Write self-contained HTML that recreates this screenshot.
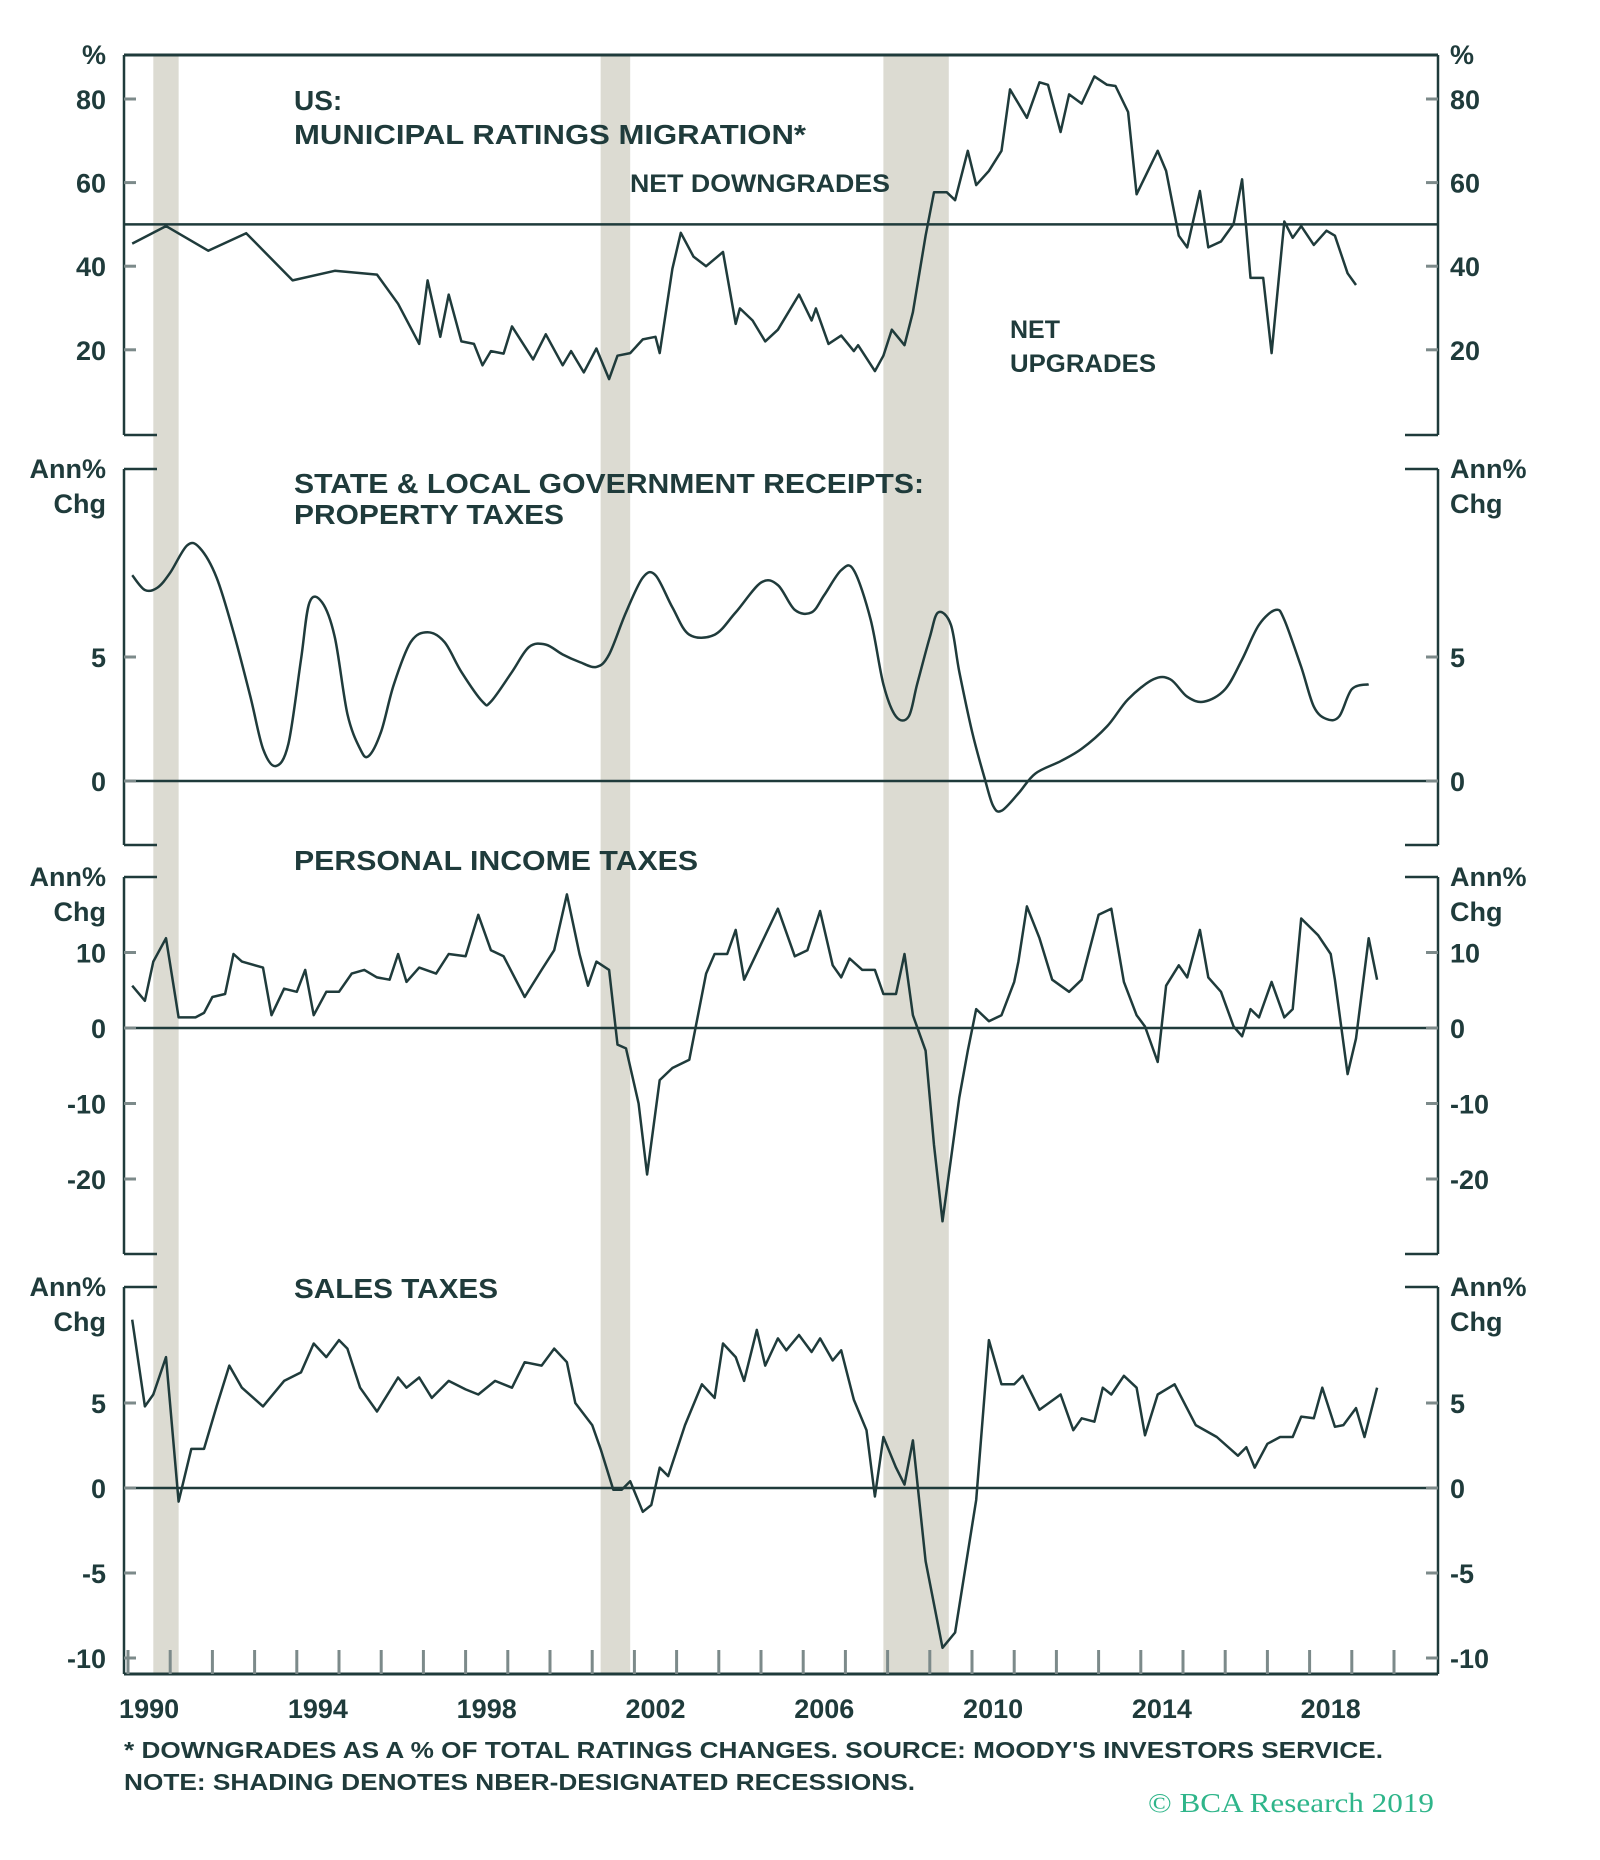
<!DOCTYPE html>
<html><head><meta charset="utf-8"><style>
html,body{margin:0;padding:0;background:#fff;}
svg{display:block;font-family:"Liberation Sans",sans-serif;}
</style></head><body>
<svg id="chart" width="1600" height="1860" viewBox="0 0 1600 1860" xmlns="http://www.w3.org/2000/svg"></svg>
<script>
// ---- data ----
const recessions = [[1990.6,1991.2],[2001.2,2001.9],[2007.9,2009.45]];
const yearLabels = [1990,1994,1998,2002,2006,2010,2014,2018];
const ratingsYears = [1990.1,1990.9,1991.9,1992.8,1993.9,1994.9,1995.9,1996.4,1996.9,1997.1,1997.4,1997.6,1997.9,1998.2,1998.4,1998.6,1998.9,1999.1,1999.6,1999.9,2000.3,2000.5,2000.8,2001.1,2001.4,2001.6,2001.9,2002.2,2002.5,2002.6,2002.9,2003.1,2003.4,2003.7,2004.1,2004.4,2004.5,2004.8,2005.1,2005.4,2005.9,2006.2,2006.3,2006.6,2006.9,2007.2,2007.3,2007.7,2007.9,2008.1,2008.4,2008.6,2008.9,2009.1,2009.4,2009.6,2009.9,2010.1,2010.4,2010.7,2010.9,2011.3,2011.6,2011.8,2012.1,2012.3,2012.6,2012.9,2013.2,2013.4,2013.7,2013.9,2014.4,2014.6,2014.9,2015.1,2015.4,2015.6,2015.9,2016.2,2016.4,2016.6,2016.9,2017.1,2017.4,2017.6,2017.8,2018.1,2018.4,2018.6,2018.9,2019.1];
const ratingsValues = [45.4,49.6,43.7,47.9,36.6,38.9,38,31,21.4,36.6,23.1,33.2,22,21.4,16.3,19.7,19.1,25.6,17.7,23.7,16.3,19.7,14.6,20.3,13,18.6,19.2,22.5,23.1,19.2,39.4,48,42.3,40,43.4,26.2,29.9,27,22,24.8,33.2,27,29.9,21.4,23.4,19.7,21.1,14.9,18.6,24.8,21.1,29,47.3,57.7,57.7,55.8,67.6,59.4,62.8,67.6,82.3,75.5,84,83.4,72.1,81.1,78.9,85.4,83.4,83.1,76.9,57.2,67.6,62.8,47.3,44.5,58,44.5,45.9,50.1,60.8,37.2,37.2,19.2,50.7,46.8,49.6,45.1,48.5,47.3,38.3,35.5];
const propYears = [1990.1,1990.4,1990.7,1991.0,1991.4,1991.7,1992.1,1992.5,1992.9,1993.2,1993.5,1993.8,1994.1,1994.3,1994.6,1994.9,1995.2,1995.5,1995.7,1996.0,1996.3,1996.7,1997.1,1997.5,1997.9,1998.4,1998.6,1999.1,1999.5,1999.9,2000.3,2000.7,2001.1,2001.4,2001.8,2002.2,2002.5,2002.9,2003.3,2003.9,2004.4,2005.0,2005.4,2005.8,2006.2,2006.5,2006.9,2007.2,2007.6,2007.9,2008.2,2008.5,2008.7,2009.0,2009.2,2009.5,2009.7,2010.0,2010.3,2010.5,2010.7,2011.1,2011.5,2012.1,2012.6,2013.2,2013.7,2014.3,2014.7,2015.1,2015.5,2016.0,2016.4,2016.8,2017.2,2017.4,2017.8,2018.1,2018.4,2018.7,2019.0,2019.4];
const propValues = [8.3,7.7,7.8,8.4,9.5,9.4,8.2,6.0,3.4,1.3,0.6,1.5,4.9,7.2,7.2,5.8,2.7,1.3,1.0,2.0,3.9,5.6,6.0,5.6,4.4,3.2,3.2,4.4,5.4,5.5,5.1,4.8,4.6,5.1,6.8,8.2,8.3,7.0,5.9,5.9,6.8,8.0,7.9,6.9,6.8,7.5,8.5,8.5,6.5,3.9,2.6,2.6,3.9,5.8,6.8,6.3,4.4,2.0,0.1,-1.0,-1.2,-0.5,0.3,0.8,1.3,2.2,3.3,4.1,4.1,3.4,3.2,3.7,4.9,6.3,6.9,6.5,4.6,3.0,2.5,2.6,3.7,3.9];
const incYears = [1990.1,1990.4,1990.6,1990.9,1991.2,1991.6,1991.8,1992.0,1992.3,1992.5,1992.7,1993.2,1993.4,1993.7,1994.0,1994.2,1994.4,1994.7,1995.0,1995.3,1995.6,1995.9,1996.2,1996.4,1996.6,1996.9,1997.3,1997.6,1998.0,1998.3,1998.6,1998.9,1999.4,1999.8,2000.1,2000.4,2000.7,2000.9,2001.1,2001.4,2001.6,2001.8,2002.1,2002.3,2002.6,2002.9,2003.3,2003.7,2003.9,2004.2,2004.4,2004.6,2005.0,2005.4,2005.8,2006.1,2006.4,2006.7,2006.9,2007.1,2007.4,2007.7,2007.9,2008.2,2008.4,2008.6,2008.9,2009.1,2009.3,2009.7,2009.9,2010.1,2010.4,2010.7,2011.0,2011.1,2011.3,2011.6,2011.9,2012.3,2012.6,2013.0,2013.3,2013.6,2013.9,2014.1,2014.4,2014.6,2014.9,2015.1,2015.4,2015.6,2015.9,2016.2,2016.4,2016.6,2016.8,2017.1,2017.4,2017.6,2017.8,2018.2,2018.5,2018.6,2018.9,2019.1,2019.4,2019.6];
const incValues = [5.6,3.6,8.8,11.9,1.4,1.4,2.0,4.1,4.5,9.8,8.8,8.0,1.7,5.2,4.8,7.7,1.7,4.8,4.8,7.2,7.7,6.7,6.4,9.8,6.1,8.0,7.2,9.8,9.5,15.0,10.3,9.5,4.1,7.7,10.3,17.7,9.8,5.6,8.8,7.7,-2.2,-2.7,-10,-19.4,-6.9,-5.3,-4.2,7.2,9.8,9.8,13,6.4,11.1,15.8,9.5,10.3,15.5,8.3,6.7,9.2,7.7,7.7,4.5,4.5,9.8,1.7,-3,-15.5,-25.6,-9.2,-3,2.5,0.9,1.7,6.1,8.8,16.1,11.9,6.4,4.8,6.4,15,15.8,6.1,1.7,0.2,-4.5,5.6,8.3,6.7,13,6.7,4.8,0.2,-1.1,2.5,1.4,6.1,1.4,2.5,14.5,12.3,9.8,6.4,-6.1,-1.4,11.9,6.4];
const salesYears = [1990.1,1990.4,1990.6,1990.9,1991.2,1991.5,1991.8,1992.1,1992.4,1992.7,1993.2,1993.7,1994.1,1994.4,1994.7,1995.0,1995.2,1995.5,1995.9,1996.4,1996.6,1996.9,1997.2,1997.6,1998.0,1998.3,1998.7,1999.1,1999.4,1999.8,2000.1,2000.4,2000.6,2001.0,2001.2,2001.5,2001.7,2001.9,2002.2,2002.4,2002.6,2002.8,2003.2,2003.6,2003.9,2004.1,2004.4,2004.6,2004.9,2005.1,2005.4,2005.6,2005.9,2006.2,2006.4,2006.7,2006.9,2007.2,2007.5,2007.7,2007.9,2008.2,2008.4,2008.6,2008.9,2009.3,2009.6,2010.1,2010.4,2010.7,2011.0,2011.2,2011.6,2012.1,2012.4,2012.6,2012.9,2013.1,2013.3,2013.6,2013.9,2014.1,2014.4,2014.8,2015.3,2015.8,2016.3,2016.5,2016.7,2017.0,2017.3,2017.6,2017.8,2018.1,2018.3,2018.6,2018.8,2019.1,2019.3,2019.6];
const salesValues = [9.9,4.8,5.5,7.7,-0.8,2.3,2.3,4.8,7.2,5.9,4.8,6.3,6.8,8.5,7.7,8.7,8.2,5.9,4.5,6.5,5.9,6.5,5.3,6.3,5.8,5.5,6.3,5.9,7.4,7.2,8.2,7.4,5.0,3.7,2.3,-0.1,-0.1,0.4,-1.4,-1.0,1.2,0.7,3.7,6.1,5.3,8.5,7.7,6.3,9.3,7.2,8.8,8.1,9.0,8.0,8.8,7.5,8.1,5.2,3.4,-0.5,3.0,1.2,0.2,2.8,-4.3,-9.4,-8.5,-0.7,8.7,6.1,6.1,6.6,4.6,5.5,3.4,4.1,3.9,5.9,5.5,6.6,5.9,3.1,5.5,6.1,3.7,3.0,1.9,2.4,1.2,2.6,3.0,3.0,4.2,4.1,5.9,3.6,3.7,4.7,3.0,5.9];

const ratingsTicks = [80,60,40,20];
const propTicks = [5,0];
const incTicks = [10,0,-10,-20];
const salesTicks = [5,0,-5,-10];

// ---- layout ----
const svg = document.getElementById('chart');
const NS = 'http://www.w3.org/2000/svg';
const C = '#1f3b3b';
const L = 124, R = 1438;
function xs(t){ return 972 + (t - 2010) * 42.2; }
const panels = [
  {name:'ratings', top:55, bot:435, y:v=>99+(80-v)*4.18, ticks:ratingsTicks, yrs:ratingsYears, vals:ratingsValues, ref:50, smooth:false},
  {name:'property-taxes', top:469, bot:845, y:v=>781-v*24.8, ticks:propTicks, yrs:propYears, vals:propValues, ref:0, smooth:true},
  {name:'income-taxes', top:877, bot:1254, y:v=>1028-v*7.55, ticks:incTicks, yrs:incYears, vals:incValues, ref:0, smooth:false},
  {name:'sales-taxes', top:1287, bot:1674, y:v=>1488-v*17, ticks:salesTicks, yrs:salesYears, vals:salesValues, ref:0, smooth:false}
];
function mk(tag, attrs, parent){
  const e = document.createElementNS(NS, tag);
  for (const k in attrs) e.setAttribute(k, attrs[k]);
  (parent||svg).appendChild(e);
  return e;
}
function smoothPath(pts){
  let d = 'M'+pts[0][0].toFixed(1)+' '+pts[0][1].toFixed(1);
  for(let i=0;i<pts.length-1;i++){
    const p0=pts[Math.max(0,i-1)], p1=pts[i], p2=pts[i+1], p3=pts[Math.min(pts.length-1,i+2)];
    const c1=[p1[0]+(p2[0]-p0[0])/6, p1[1]+(p2[1]-p0[1])/6];
    const c2=[p2[0]-(p3[0]-p1[0])/6, p2[1]-(p3[1]-p1[1])/6];
    d += ' C'+c1[0].toFixed(1)+' '+c1[1].toFixed(1)+' '+c2[0].toFixed(1)+' '+c2[1].toFixed(1)+' '+p2[0].toFixed(1)+' '+p2[1].toFixed(1);
  }
  return d;
}
recessions.forEach(r=>{
  const e = mk('rect',{x:xs(r[0]),y:55,width:xs(r[1])-xs(r[0]),height:1674-55,fill:'#dcdbd2'});
  
  
});
panels.forEach((p,i)=>{
  const g = mk('g',{});
  
  
  mk('line',{x1:L,y1:p.top,x2:L,y2:p.bot,stroke:C,'stroke-width':2.5},g);
  mk('line',{x1:R,y1:p.top,x2:R,y2:p.bot,stroke:C,'stroke-width':2.5},g);
  if(i===0){ mk('line',{x1:L,y1:p.top,x2:R,y2:p.top,stroke:C,'stroke-width':3},g); }
  else { mk('line',{x1:L,y1:p.top,x2:L+33,y2:p.top,stroke:C,'stroke-width':2.5},g); mk('line',{x1:R-33,y1:p.top,x2:R,y2:p.top,stroke:C,'stroke-width':2.5},g); }
  if(i===3){ mk('line',{x1:L,y1:p.bot,x2:R,y2:p.bot,stroke:C,'stroke-width':3},g); }
  else { mk('line',{x1:L,y1:p.bot,x2:L+33,y2:p.bot,stroke:C,'stroke-width':2.5},g); mk('line',{x1:R-33,y1:p.bot,x2:R,y2:p.bot,stroke:C,'stroke-width':2.5},g); }
  const ref = mk('line',{x1:L,y1:p.y(p.ref),x2:R,y2:p.y(p.ref),stroke:C,'stroke-width':2.5},g);
  
  
  p.ticks.forEach(v=>{
    const y = p.y(v);
    mk('line',{x1:L,y1:y,x2:L+12,y2:y,stroke:'#7c8a8a','stroke-width':3},g);
    mk('line',{x1:R-12,y1:y,x2:R,y2:y,stroke:'#7c8a8a','stroke-width':3},g);
    const tl = mk('text',{x:106,y:y+10,'text-anchor':'end','font-size':27,'font-weight':'bold',fill:C},g);
    tl.textContent = v;
    
    
    const tr = mk('text',{x:1450,y:y+10,'text-anchor':'start','font-size':27,'font-weight':'bold',fill:C},g);
    tr.textContent = v;
    
    
  });
  const pts = p.yrs.map((t,k)=>[xs(t), p.y(p.vals[k])]);
  const d = p.smooth ? smoothPath(pts) : pts.map((q,k)=>(k?'L':'M')+q[0].toFixed(1)+' '+q[1].toFixed(1)).join(' ');
  const path = mk('path',{d:d,fill:'none',stroke:C,'stroke-width':2.5,'stroke-linejoin':'round'},g);
  
  
  const units = i===0 ? [['%',0]] : [['Ann%',0],['Chg',35]];
  const baseY = i===0 ? p.top+9 : p.top+9;
  units.forEach(u=>{
    const a = mk('text',{x:106,y:baseY+u[1],'text-anchor':'end','font-size':27,'font-weight':'bold',fill:C},g);
    a.textContent = u[0];
    
    
    const b = mk('text',{x:1450,y:baseY+u[1],'text-anchor':'start','font-size':27,'font-weight':'bold',fill:C},g);
    b.textContent = u[0];
    
    
  });
});
for(let yr=1990; yr<=2020; yr++){
  const t = mk('line',{x1:xs(yr),y1:1674,x2:xs(yr),y2:1650,stroke:'#7c8a8a','stroke-width':3});
  
  
}
yearLabels.forEach(yr=>{
  const t = mk('text',{x:xs(yr+0.5),y:1718,'text-anchor':'middle','font-size':27,'font-weight':'bold',fill:C});
  t.textContent = yr;
  
  
});
</script>
<svg style="position:absolute;left:0;top:0" width="1600" height="1860">
  <g font-family="Liberation Sans, sans-serif" font-weight="bold" fill="#1f3b3b" font-size="28">
    <text x="294" y="110">US:</text>
    <text x="294" y="144" textLength="512" lengthAdjust="spacingAndGlyphs">MUNICIPAL RATINGS MIGRATION*</text>
    <text x="630" y="192" font-size="25" textLength="260" lengthAdjust="spacingAndGlyphs">NET DOWNGRADES</text>
    <text x="1010" y="338" font-size="25">NET</text>
    <text x="1010" y="372" font-size="25" textLength="146" lengthAdjust="spacingAndGlyphs">UPGRADES</text>
    <text x="294" y="493" textLength="630" lengthAdjust="spacingAndGlyphs">STATE &amp; LOCAL GOVERNMENT RECEIPTS:</text>
    <text x="294" y="524" textLength="270" lengthAdjust="spacingAndGlyphs">PROPERTY TAXES</text>
    <text x="294" y="870" textLength="404" lengthAdjust="spacingAndGlyphs">PERSONAL INCOME TAXES</text>
    <text x="294" y="1298" textLength="204" lengthAdjust="spacingAndGlyphs">SALES TAXES</text>
    <text x="124" y="1758" font-size="23" textLength="1259" lengthAdjust="spacingAndGlyphs">* DOWNGRADES AS A % OF TOTAL RATINGS CHANGES. SOURCE: MOODY'S INVESTORS SERVICE.</text>
    <text x="124" y="1790" font-size="23" textLength="791" lengthAdjust="spacingAndGlyphs">NOTE: SHADING DENOTES NBER-DESIGNATED RECESSIONS.</text>
  </g>
  <text x="1434" y="1812" text-anchor="end" font-family="Liberation Serif, serif" font-size="27" fill="#2fb58a" textLength="286" lengthAdjust="spacingAndGlyphs">© BCA Research 2019</text>
</svg>
</body></html>
